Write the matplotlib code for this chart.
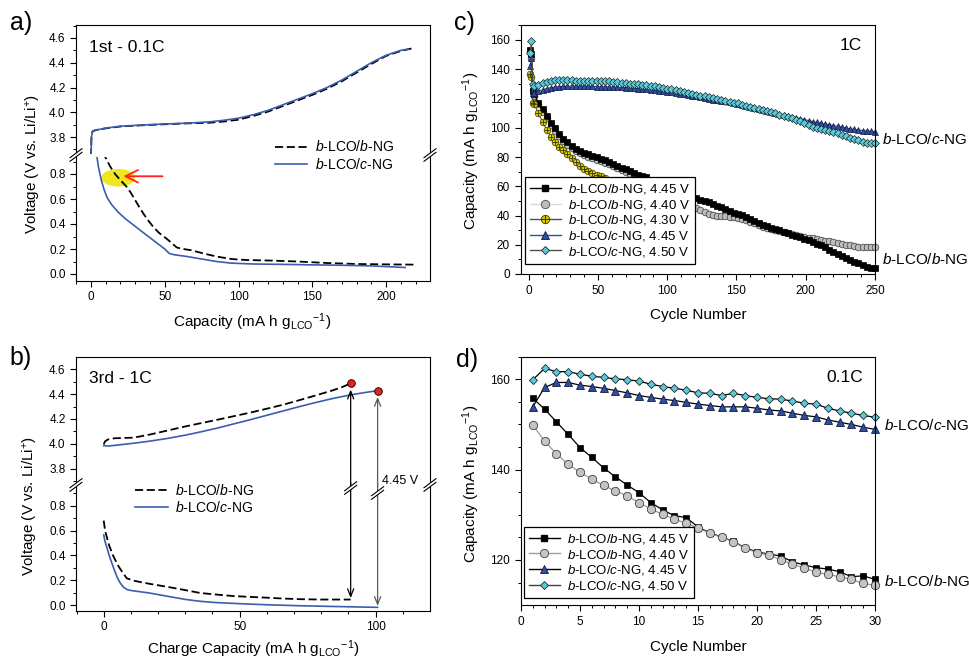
import matplotlib
matplotlib.use('Agg')
import matplotlib.pyplot as plt
from matplotlib.lines import Line2D
from matplotlib.patches import Ellipse, Polygon
from matplotlib.ticker import MultipleLocator, FormatStrFormatter
from matplotlib.legend_handler import HandlerTuple

# ---------------- data ----------------
# panel a (1st cycle, 0.1C)
a_chg_cap_bb = [0, 0.3, 1, 3, 10, 20, 35, 50, 65, 80, 90, 100, 110, 120, 130, 140, 150, 160, 170, 180, 190, 200, 210, 219]
a_chg_v_bb = [3.64, 3.80, 3.845, 3.855, 3.87, 3.885, 3.895, 3.903, 3.91, 3.915, 3.925, 3.94, 3.97, 4.005, 4.05, 4.095, 4.14, 4.19, 4.25, 4.32, 4.39, 4.455, 4.495, 4.52]
a_chg_cap_bc = [0, 0.3, 1, 3, 10, 20, 35, 50, 65, 80, 90, 100, 110, 120, 130, 140, 150, 160, 170, 180, 190, 200, 210, 215]
a_chg_v_bc = [3.64, 3.80, 3.845, 3.855, 3.872, 3.887, 3.897, 3.905, 3.912, 3.922, 3.935, 3.952, 3.98, 4.015, 4.06, 4.105, 4.15, 4.20, 4.26, 4.33, 4.40, 4.46, 4.50, 4.51]
a_dis_cap_bb = [8.5, 9.5, 13, 16.3, 20, 24, 27, 30, 33, 36, 39, 42, 46, 51, 55, 58, 61, 68, 76, 85, 95, 105, 120, 140, 160, 180, 200, 219]
a_dis_v_bb = [0.98, 0.94, 0.86, 0.80, 0.75, 0.70, 0.65, 0.59, 0.53, 0.475, 0.425, 0.38, 0.33, 0.285, 0.245, 0.213, 0.203, 0.19, 0.165, 0.14, 0.12, 0.112, 0.108, 0.10, 0.088, 0.08, 0.077, 0.075]
a_dis_cap_bc = [3.5, 5, 7, 9, 11, 14, 18, 23, 29, 35, 40, 45, 50, 53, 56, 65, 75, 85, 95, 110, 130, 150, 170, 190, 213]
a_dis_v_bc = [0.98, 0.86, 0.75, 0.67, 0.61, 0.555, 0.50, 0.445, 0.39, 0.335, 0.29, 0.245, 0.20, 0.165, 0.155, 0.14, 0.12, 0.10, 0.087, 0.08, 0.077, 0.073, 0.07, 0.065, 0.052]

# panel b (3rd cycle, 1C)
b_chg_cap_bb = [0, 0.5, 1.5, 4, 11, 17, 23, 30, 35.4, 42, 47.7, 54, 60, 66, 72, 78, 84.4, 88, 90.8]
b_chg_v_bb = [3.995, 4.02, 4.035, 4.045, 4.05, 4.075, 4.105, 4.14, 4.165, 4.195, 4.222, 4.252, 4.283, 4.315, 4.352, 4.39, 4.432, 4.46, 4.487]
b_chg_cap_bc = [0, 2, 5, 11, 17, 23, 30, 35.4, 42, 47.7, 54, 60, 66, 72, 78, 84.4, 90.5, 96, 100.7]
b_chg_v_bc = [3.985, 3.983, 3.99, 4.005, 4.022, 4.042, 4.07, 4.095, 4.128, 4.16, 4.195, 4.23, 4.265, 4.30, 4.333, 4.366, 4.393, 4.413, 4.428]
b_dis_cap_bb = [0, 0.5, 1.1, 2, 3.6, 5.5, 7, 8.5, 11, 17, 23, 30, 35.4, 41, 47.7, 54, 60, 66, 72, 80, 90.8]
b_dis_v_bb = [0.68, 0.60, 0.55, 0.48, 0.39, 0.31, 0.26, 0.215, 0.196, 0.17, 0.148, 0.12, 0.097, 0.085, 0.072, 0.065, 0.059, 0.052, 0.047, 0.044, 0.044]
b_dis_cap_bc = [0, 0.5, 1.1, 2, 3.6, 5, 6, 7.2, 8.5, 9.7, 13, 17, 23, 30, 35.4, 41, 47.7, 54, 60, 72, 85, 100.7]
b_dis_v_bc = [0.564, 0.51, 0.47, 0.40, 0.30, 0.22, 0.18, 0.145, 0.125, 0.118, 0.108, 0.096, 0.072, 0.045, 0.03, 0.02, 0.013, 0.007, 0.002, -0.006, -0.012, -0.019]
b_end_cap = [90.8, 100.7]
b_end_top = [4.487, 4.428]
b_end_bot = [0.044, -0.019]

# panel c (1C cycling)
c_cycles = [1, 2, 3] + list(range(4, 251, 3))
c_bNG_445 = [153.5, 150.5, 125.0,
             123.0, 117.0, 112.5, 108.0, 103.5, 99.5, 96.0, 92.5, 90.0, 87.5,
             85.5, 84.0, 82.8, 81.8, 80.8, 79.8, 78.8, 77.8, 76.6, 75.3,
             74.0, 72.8, 71.5, 70.2, 69.0, 68.0, 67.0, 66.0, 64.5, 63.0,
             61.5, 60.0, 58.7, 57.5, 56.4, 55.3, 54.3, 53.4, 52.6, 51.8,
             50.8, 49.8, 48.9, 48.0, 46.8, 45.5, 44.2, 43.0, 42.0, 41.2,
             40.2, 39.0, 37.6, 36.2, 34.8, 33.5, 32.6, 31.6, 30.7, 29.8,
             28.9, 28.0, 27.0, 26.0, 25.0, 24.0, 23.0, 22.0, 20.8, 19.5,
             18.2, 16.7, 15.3, 14.0, 12.6, 11.0, 9.8, 8.5, 7.2, 6.0,
             5.0, 4.3, 3.9]
c_bNG_440 = [152.0, 148.0, 125.5,
             122.0, 116.0, 111.0, 106.5, 102.0, 98.0, 94.5, 91.0, 88.5, 86.0,
             84.0, 82.5, 81.2, 80.2, 79.2, 78.2, 77.2, 76.2, 75.0, 73.7,
             72.4, 71.0, 69.7, 68.4, 67.2, 66.0, 64.8, 63.5, 62.0, 60.5,
             59.0, 57.5, 56.0, 54.5, 53.0, 51.3, 49.6, 48.0, 46.4, 45.0,
             43.6, 42.3, 41.2, 40.4, 39.9, 39.6, 39.4, 39.2, 39.0, 38.6,
             37.8, 36.8, 35.8, 34.6, 33.4, 32.3, 31.5, 30.8, 30.1, 29.4,
             28.7, 28.0, 27.3, 26.6, 26.0, 25.4, 24.9, 24.4, 23.9, 23.4,
             22.9, 22.3, 21.8, 21.2, 20.6, 20.0, 19.5, 19.1, 18.8, 18.6,
             18.4, 18.3, 18.2]
c_cycles_430 = [1, 2, 3] + list(range(4, 56, 3))
c_bNG_430 = [137.0, 134.5, 117.0,
             116.0, 110.0, 104.0, 98.5, 94.0, 90.0, 87.0, 84.5, 82.0, 79.0,
             76.5, 74.0, 72.0, 70.5, 69.3, 68.0, 66.8, 65.5]
c_cNG_445 = [142.0, 148.0, 124.0,
             124.0, 125.0, 126.0, 126.8, 127.4, 127.8, 128.1, 128.3, 128.4, 128.5,
             128.5, 128.5, 128.5, 128.4, 128.3, 128.2, 128.1, 128.0, 127.9, 127.8,
             127.7, 127.6, 127.4, 127.2, 127.0, 126.8, 126.5, 126.2, 125.9, 125.6,
             125.3, 125.0, 124.6, 124.2, 123.8, 123.4, 123.0, 122.5, 122.0, 121.5,
             121.0, 120.4, 119.8, 119.2, 118.8, 118.4, 118.0, 117.6, 117.1, 116.5,
             115.8, 115.0, 114.2, 113.5, 112.8, 112.1, 111.4, 110.7, 110.0, 109.4,
             108.8, 108.2, 107.6, 107.0, 106.3, 105.6, 104.9, 104.2, 103.6, 103.0,
             102.5, 102.0, 101.5, 101.0, 100.5, 99.8, 99.3, 98.9, 98.5, 98.1,
             97.8, 97.5, 97.3]
c_cNG_450 = [151.0, 159.0, 130.0,
             128.5, 129.5, 130.5, 131.3, 132.0, 132.4, 132.6, 132.6, 132.5, 132.4,
             132.3, 132.1, 132.0, 131.9, 132.0, 132.1, 132.2, 132.0, 131.7, 131.4,
             131.0, 130.7, 130.4, 130.2, 130.0, 129.8, 129.5, 129.1, 128.7, 128.3,
             127.8, 127.3, 126.8, 126.2, 125.6, 125.0, 124.4, 123.8, 123.2, 122.6,
             122.0, 121.4, 120.8, 120.3, 119.7, 119.0, 118.4, 117.8, 117.2, 116.6,
             115.8, 115.0, 114.2, 113.4, 112.6, 111.9, 111.2, 110.5, 109.8, 109.0,
             108.2, 107.4, 106.6, 105.6, 104.4, 103.2, 102.0, 100.8, 100.0, 99.4,
             98.8, 98.0, 97.2, 96.3, 95.3, 94.3, 93.3, 92.3, 91.4, 90.5,
             89.8, 89.4, 89.3]

# panel d (0.1C cycling)
d_cycles = list(range(1, 31))
d_bNG_445 = [155.8, 153.4, 150.6, 147.8, 144.9, 142.7, 140.4, 138.4, 136.6, 134.9,
             132.7, 131.1, 129.8, 129.4, 127.3, 126.0, 125.1, 124.1, 122.7, 121.8,
             121.3, 120.9, 119.6, 118.9, 118.3, 118.0, 117.4, 116.3, 116.5, 115.7]
d_bNG_440 = [149.9, 146.3, 143.5, 141.2, 139.4, 137.9, 136.5, 135.3, 134.2, 132.7,
             131.3, 130.1, 129.1, 128.1, 127.1, 125.9, 125.0, 124.0, 122.6, 121.6,
             121.1, 120.1, 119.1, 118.2, 117.3, 116.8, 116.3, 115.7, 114.8, 114.4]
d_cNG_445 = [153.9, 158.2, 159.3, 159.3, 158.7, 158.4, 158.0, 157.5, 157.0, 156.4,
             156.0, 155.6, 155.3, 154.9, 154.5, 154.2, 153.9, 153.9, 153.9, 153.6,
             153.2, 153.0, 152.5, 152.0, 151.7, 151.0, 150.5, 150.0, 149.4, 148.9]
d_cNG_450 = [159.9, 162.4, 161.7, 161.7, 161.1, 160.7, 160.4, 160.1, 159.9, 159.6,
             158.9, 158.4, 158.0, 157.6, 157.0, 156.9, 156.4, 156.9, 156.4, 156.0,
             155.7, 155.6, 155.2, 154.7, 154.5, 153.6, 153.0, 152.5, 152.0, 151.6]

lab_bb = r'$\mathit{b}$-LCO/$\mathit{b}$-NG'
lab_bc = r'$\mathit{b}$-LCO/$\mathit{c}$-NG'
lab_c = [lab_bb + ', 4.45 V', lab_bb + ', 4.40 V', lab_bb + ', 4.30 V', lab_bc + ', 4.45 V', lab_bc + ', 4.50 V']
lab_d = [lab_bb + ', 4.45 V', lab_bb + ', 4.40 V', lab_bc + ', 4.45 V', lab_bc + ', 4.50 V']

# ---------------- style ----------------
plt.rcParams['font.family'] = ['Liberation Sans', 'DejaVu Sans']
plt.rcParams['mathtext.fontset'] = 'custom'
plt.rcParams['mathtext.rm'] = 'Liberation Sans'
plt.rcParams['mathtext.it'] = 'Liberation Sans:italic'
plt.rcParams['mathtext.bf'] = 'Liberation Sans:bold'

W, H = 970, 659
fig = plt.figure(figsize=(W / 100, H / 100), dpi=100)

BLUE = '#3A5DAE'
DASH = (4.5, 2.0)


def fpx(x, y):
    return (x / W, 1 - y / H)


def add_ax(l, t, r, b):
    return fig.add_axes([l / W, 1 - b / H, (r - l) / W, (b - t) / H])


def vlims(p_top, p_bot, v1, p1, v2, p2):
    s = (v1 - v2) / (p2 - p1)
    return (v1 + (p1 - p_bot) * s, v1 + (p1 - p_top) * s)


def hlims(p_l, p_r, v1, p1, v2, p2):
    s = (v2 - v1) / (p2 - p1)
    return (v1 + (p_l - p1) * s, v1 + (p_r - p1) * s)


def style_ax(ax, pad=3.5):
    ax.tick_params(which='both', direction='out', top=False, right=False, labelsize=8.5)
    ax.tick_params(which='major', length=4.0, width=0.8, pad=pad)
    ax.tick_params(which='minor', length=2.2, width=0.7)
    for s in ax.spines.values():
        s.set_linewidth(0.8)


def brk(xpx, ypx, color='k'):
    dx, dy, d = 6.0, 4.5, 1.8
    poly = Polygon([fpx(xpx - dx, ypx + dy - d), fpx(xpx + dx, ypx - dy - d),
                    fpx(xpx + dx, ypx - dy + d), fpx(xpx - dx, ypx + dy + d)],
                   closed=True, transform=fig.transFigure, fc='white', ec='none', zorder=20)
    fig.add_artist(poly)
    for s in (-d, d):
        p0 = fpx(xpx - dx, ypx + dy + s)
        p1 = fpx(xpx + dx, ypx - dy + s)
        fig.add_artist(Line2D([p0[0], p1[0]], [p0[1], p1[1]], transform=fig.transFigure,
                              color=color, lw=0.8, zorder=21))


def broken_pair(l, r, t, brk_y, b, top_ref, bot_ref, xl):
    gap = 1.5
    at = add_ax(l, t, r, brk_y - gap)
    ab = add_ax(l, brk_y + gap, r, b)
    at.set_ylim(*vlims(t, brk_y - gap, *top_ref))
    ab.set_ylim(*vlims(brk_y + gap, b, *bot_ref))
    for ax in (at, ab):
        ax.set_xlim(*xl)
        style_ax(ax)
        ax.yaxis.set_major_formatter(FormatStrFormatter('%.1f'))
        ax.yaxis.set_major_locator(MultipleLocator(0.2))
        ax.yaxis.set_minor_locator(MultipleLocator(0.1))
        ax.xaxis.set_minor_locator(MultipleLocator(10))
        ax.xaxis.set_major_locator(MultipleLocator(50))
    at.spines['bottom'].set_visible(False)
    at.tick_params(axis='x', which='both', bottom=False, labelbottom=False)
    ab.spines['top'].set_visible(False)
    brk(l, brk_y)
    brk(r, brk_y)
    return at, ab


# ---------------- panel a ----------------
ax_at, ax_ab = broken_pair(76, 430, 25, 155, 281,
                           (4.6, 38, 3.8, 137), (0.8, 174, 0.0, 274),
                           hlims(76, 430, 0, 91, 200, 386))
ax_at.set_yticks([3.8, 4.0, 4.2, 4.4, 4.6])
ax_ab.set_yticks([0.0, 0.2, 0.4, 0.6, 0.8])
ax_at.plot(a_chg_cap_bb, a_chg_v_bb, color='k', lw=1.3, dashes=DASH)
ax_at.plot(a_chg_cap_bc, a_chg_v_bc, color=BLUE, lw=1.2)
ax_ab.add_patch(Ellipse((18.5, 0.77), width=23, height=0.14, color='#F0E51E', zorder=1, lw=0))
ax_ab.plot(a_dis_cap_bb, a_dis_v_bb, color='k', lw=1.3, dashes=DASH)
ax_ab.plot(a_dis_cap_bc, a_dis_v_bc, color=BLUE, lw=1.2)
ax_ab.annotate('', xy=(22, 0.782), xytext=(48.5, 0.782),
               arrowprops=dict(arrowstyle='->,head_length=0.9,head_width=0.45',
                               color='#FF2020', lw=1.3, shrinkA=0, shrinkB=0))

la = [Line2D([], [], color='k', lw=1.3, dashes=DASH), Line2D([], [], color=BLUE, lw=1.2)]
fig.legend(la, [lab_bb, lab_bc], loc='center left', bbox_to_anchor=fpx(275, 155.5),
           bbox_transform=fig.transFigure, frameon=False, fontsize=10, borderpad=0,
           handlelength=2.3, handletextpad=0.55, labelspacing=0.15, borderaxespad=0)

fig.text(*fpx(89, 47), '1st - 0.1C', fontsize=12.5, ha='left', va='center')
fig.text(*fpx(34, 164), r'Voltage (V vs. Li/Li$^{+}$)', rotation=90, fontsize=11, ha='center', va='center')
fig.text(*fpx(252, 322), r'Capacity (mA h g$_{\mathrm{LCO}}$$^{-1}$)', fontsize=11, ha='center', va='center')

# ---------------- panel b ----------------
ax_bt, ax_bb = broken_pair(76, 430, 357, 485, 611,
                           (4.6, 369.3, 3.8, 468.7), (0.8, 505.7, 0.0, 605),
                           hlims(76, 430, 0, 103.7, 100, 375.7))
ax_bt.set_yticks([3.8, 4.0, 4.2, 4.4, 4.6])
ax_bb.set_yticks([0.0, 0.2, 0.4, 0.6, 0.8])
ax_bt.plot(b_chg_cap_bb, b_chg_v_bb, color='k', lw=1.3, dashes=DASH)
ax_bt.plot(b_chg_cap_bc, b_chg_v_bc, color=BLUE, lw=1.2)
ax_bb.plot(b_dis_cap_bb, b_dis_v_bb, color='k', lw=1.3, dashes=DASH)
ax_bb.plot(b_dis_cap_bc, b_dis_v_bc, color=BLUE, lw=1.2)
arrow_cols = ['k', '#5A5A5A']
for x, yt, yb, col in zip(b_end_cap, b_end_top, b_end_bot, arrow_cols):
    ax_bt.annotate('', xy=(x, yt), xytext=(x, -0.03), textcoords=('data', 'axes fraction'),
                   arrowprops=dict(arrowstyle='->,head_length=0.55,head_width=0.22', color=col,
                                   lw=0.9, shrinkA=0, shrinkB=4.5), annotation_clip=False)
    ax_bb.annotate('', xy=(x, yb), xytext=(x, 1.03), textcoords=('data', 'axes fraction'),
                   arrowprops=dict(arrowstyle='->,head_length=0.55,head_width=0.22', color=col,
                                   lw=0.9, shrinkA=0, shrinkB=1), annotation_clip=False)
ax_bt.plot(b_end_cap, b_end_top, 'o', ms=5.5, mfc='#E8211E', mec='k', mew=0.6, zorder=5, clip_on=False)
for x, ypx in zip(b_end_cap, [488, 493]):
    xd = ax_bb.transData.transform((x, 0))[0]
    brk(xd, ypx, color='k')
fig.text(*fpx(382, 480.7), '4.45 V', fontsize=9, ha='left', va='center')

lb = [Line2D([], [], color='k', lw=1.3, dashes=DASH), Line2D([], [], color=BLUE, lw=1.2)]
fig.legend(lb, [lab_bb, lab_bc], loc='center left', bbox_to_anchor=fpx(135, 499),
           bbox_transform=fig.transFigure, frameon=False, fontsize=10, borderpad=0,
           handlelength=2.4, handletextpad=0.5, labelspacing=0.1, borderaxespad=0)
fig.text(*fpx(89, 378.3), '3rd - 1C', fontsize=12.5, ha='left', va='center')
fig.text(*fpx(31, 506), r'Voltage (V vs. Li/Li$^{+}$)', rotation=90, fontsize=11, ha='center', va='center')
fig.text(*fpx(253, 649), r'Charge Capacity (mA h g$_{\mathrm{LCO}}$$^{-1}$)', fontsize=11, ha='center', va='center')

# ---------------- panel c ----------------
ax_c = add_ax(521, 25, 875, 274)
style_ax(ax_c, pad=4)
ax_c.set_xlim(*hlims(521, 875, 0, 528.7, 250, 875))
ax_c.set_ylim(*vlims(25, 274, 160, 40, 0, 274))
ax_c.xaxis.set_major_locator(MultipleLocator(50))
ax_c.xaxis.set_minor_locator(MultipleLocator(10))
ax_c.yaxis.set_major_locator(MultipleLocator(20))
ax_c.yaxis.set_minor_locator(MultipleLocator(10))

EW = 0.5
kw = dict(lw=0.8, clip_on=False)
ax_c.plot(c_cycles, c_bNG_440, '-o', color='#CFCFCF', ms=4.8, mfc='#BDBDBD', mec='#3A3A3A', mew=EW, **kw)
ax_c.plot(c_cycles, c_bNG_445, '-s', color='k', ms=4.4, mfc='k', mec='k', mew=EW, **kw)
ax_c.plot(c_cycles_430, c_bNG_430, '-o', color='#4A4A4A', ms=4.8, mfc='#D6CA00', mec='#3A3600', mew=EW, **kw)
ax_c.plot(c_cycles_430, c_bNG_430, '+', color='#3A3600', ms=4.8, mew=0.6, clip_on=False)
ax_c.plot(c_cycles, c_cNG_445, '-^', color='#2E4E9E', ms=5.0, mfc='#2E4E9E', mec='#101840', mew=EW, **kw)
ax_c.plot(c_cycles, c_cNG_450, '-D', color='#4A4A4A', ms=3.6, mfc='#5CC9DA', mec='#1A2A2A', mew=EW, **kw)

lc_handles = [Line2D([], [], color='k', lw=1.0, marker='s', ms=5, mfc='k', mec='k'),
              Line2D([], [], color='#D8D8D8', lw=1.0, marker='o', ms=6, mfc='#BDBDBD', mec='#505050', mew=0.6),
              (Line2D([], [], color='#505050', lw=1.0, marker='o', ms=6, mfc='#D6CA00', mec='#3A3600', mew=0.6),
               Line2D([], [], ls='none', marker='+', ms=6, color='#3A3600', mew=0.7)),
              Line2D([], [], color='#3050A0', lw=1.0, marker='^', ms=6, mfc='#2E4E9E', mec='#101840', mew=0.6),
              Line2D([], [], color='#505050', lw=1.0, marker='D', ms=4.5, mfc='#5CC9DA', mec='#1A2A2A', mew=0.6)]
leg_c = ax_c.legend(lc_handles, lab_c, loc='upper left', bbox_to_anchor=fpx(525, 177),
                    bbox_transform=fig.transFigure, fontsize=9.5, frameon=True, fancybox=False,
                    edgecolor='k', framealpha=1, borderpad=0.4, handlelength=2.3,
                    handletextpad=0.55, labelspacing=0.12, borderaxespad=0,
                    handler_map={tuple: HandlerTuple(ndivide=1)})
leg_c.get_frame().set_linewidth(0.9)
leg_c.set_zorder(10)

fig.text(*fpx(862, 45), '1C', fontsize=12.5, ha='right', va='center')
fig.text(*fpx(882, 139), lab_bc, fontsize=11, ha='left', va='center')
fig.text(*fpx(882, 260), lab_bb, fontsize=11, ha='left', va='center')
fig.text(*fpx(471, 151), r'Capacity (mA h g$_{\mathrm{LCO}}$$^{-1}$)', rotation=90, fontsize=11, ha='center', va='center')
fig.text(*fpx(698, 315), 'Cycle Number', fontsize=11, ha='center', va='center')

# ---------------- panel d ----------------
ax_d = add_ax(521, 356.7, 875, 605)
style_ax(ax_d, pad=4)
ax_d.set_xlim(0, 30)
ax_d.set_ylim(*vlims(356.7, 605, 160, 379.3, 120, 560))
ax_d.xaxis.set_major_locator(MultipleLocator(5))
ax_d.xaxis.set_minor_locator(MultipleLocator(1))
ax_d.yaxis.set_major_locator(MultipleLocator(20))
ax_d.yaxis.set_minor_locator(MultipleLocator(5))

kd = dict(lw=0.9, clip_on=False)
ax_d.plot(d_cycles, d_bNG_445, '-s', color='k', ms=4.2, mfc='k', mec='k', mew=0.5, **kd)
ax_d.plot(d_cycles, d_bNG_440, '-o', color='#9A9A9A', ms=6.0, mfc='#C4C4C4', mec='#404040', mew=0.6, **kd)
ax_d.plot(d_cycles, d_cNG_445, '-^', color='k', ms=6.0, mfc='#2E4E9E', mec='#101840', mew=0.6, **kd)
ax_d.plot(d_cycles, d_cNG_450, '-D', color='k', ms=4.2, mfc='#5CC9DA', mec='#1A2A2A', mew=0.6, **kd)

ld_handles = [Line2D([], [], color='k', lw=1.0, marker='s', ms=5, mfc='k', mec='k'),
              Line2D([], [], color='#A0A0A0', lw=1.0, marker='o', ms=6, mfc='#C4C4C4', mec='#404040', mew=0.6),
              Line2D([], [], color='k', lw=1.0, marker='^', ms=6, mfc='#2E4E9E', mec='#101840', mew=0.6),
              Line2D([], [], color='#404040', lw=1.0, marker='D', ms=4.5, mfc='#5CC9DA', mec='#1A2A2A', mew=0.6)]
leg_d = ax_d.legend(ld_handles, lab_d, loc='upper left', bbox_to_anchor=fpx(524, 526.7),
                    bbox_transform=fig.transFigure, fontsize=9.5, frameon=True, fancybox=False,
                    edgecolor='k', framealpha=1, borderpad=0.4, handlelength=2.3,
                    handletextpad=0.55, labelspacing=0.12, borderaxespad=0)
leg_d.get_frame().set_linewidth(0.9)
leg_d.set_zorder(10)

fig.text(*fpx(862.7, 377.7), '0.1C', fontsize=12.5, ha='right', va='center')
fig.text(*fpx(884, 425), lab_bc, fontsize=11, ha='left', va='center')
fig.text(*fpx(884, 581.7), lab_bb, fontsize=11, ha='left', va='center')
fig.text(*fpx(471, 483.5), r'Capacity (mA h g$_{\mathrm{LCO}}$$^{-1}$)', rotation=90, fontsize=11, ha='center', va='center')
fig.text(*fpx(698, 647), 'Cycle Number', fontsize=11, ha='center', va='center')

# panel letters
for s, x, y in [('a)', 10, 11), ('b)', 9, 346), ('c)', 454, 11), ('d)', 456, 348)]:
    fig.text(*fpx(x, y), s, fontsize=18, ha='left', va='top')

fig.savefig('out.png', dpi=100)
